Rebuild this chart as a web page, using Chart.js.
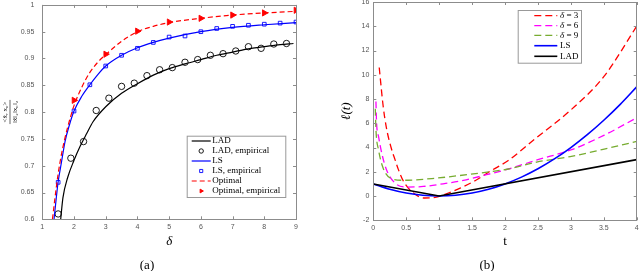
<!DOCTYPE html>
<html lang="en">
  <head>
    <meta charset="UTF-8" />
    <title>Chart</title>
    <style>
      body { margin: 0; background: #fff; }
      #wrap { position: relative; width: 640px; height: 271px; }
      #wrap canvas { position: absolute; top: 0; }
      .cap {
        position: absolute;
        top: 257px;
        font: 13px "Liberation Serif", serif;
        transform: translateX(-50%);
      }
    </style>
  </head>
  <body>
    <div id="wrap">
      <canvas id="chartA" width="320" height="271" style="left: 0"></canvas>
      <canvas id="chartB" width="320" height="271" style="left: 320px"></canvas>
      <div class="cap" style="left: 147px">(a)</div>
      <div class="cap" style="left: 487px">(b)</div>
    </div>

    <script src="https://cdn.jsdelivr.net/npm/chart.js"></script>
    <script>
      // ---- (a) correlation vs delta ----
      const aTickX = [1, 2, 3, 4, 5, 6, 7, 8, 9];
      const aTickY = [0.6, 0.65, 0.7, 0.75, 0.8, 0.85, 0.9, 0.95, 1];

      const ladDelta = [1.58, 1.65, 1.8, 2.0, 2.2, 2.4, 2.6, 3.0, 3.5, 4.0, 4.5, 5.0, 5.5, 6.0, 6.5, 7.0, 7.5, 8.0, 8.5, 8.92];
      const ladCurve = [0.6, 0.64, 0.678, 0.71, 0.737, 0.76, 0.782, 0.81, 0.835, 0.853, 0.869, 0.881, 0.89, 0.898, 0.906, 0.912, 0.918, 0.922, 0.926, 0.928];
      const ladEmpDelta = [1.5, 1.9, 2.3, 2.7, 3.1, 3.5, 3.9, 4.3, 4.7, 5.1, 5.5, 5.9, 6.3, 6.7, 7.1, 7.5, 7.9, 8.3, 8.7];
      const ladEmp = [0.61, 0.714, 0.745, 0.803, 0.826, 0.848, 0.854, 0.868, 0.879, 0.883, 0.893, 0.898, 0.906, 0.909, 0.914, 0.922, 0.919, 0.927, 0.928];

      const lsDelta = [1.37, 1.45, 1.5, 1.6, 1.72, 1.85, 2.0, 2.25, 2.5, 2.75, 3.0, 3.5, 4.0, 4.5, 5.0, 6.0, 7.0, 8.0, 9.0];
      const lsCurve = [0.6, 0.645, 0.67, 0.705, 0.746, 0.775, 0.802, 0.83, 0.851, 0.87, 0.886, 0.906, 0.92, 0.93, 0.938, 0.95, 0.958, 0.963, 0.967];
      const lsEmpDelta = [1.5, 2.0, 2.5, 3.0, 3.5, 4.0, 4.5, 5.0, 5.5, 6.0, 6.5, 7.0, 7.5, 8.0, 8.5, 9.0];
      const lsEmp = [0.669, 0.802, 0.851, 0.886, 0.906, 0.919, 0.93, 0.94, 0.942, 0.95, 0.956, 0.96, 0.962, 0.964, 0.966, 0.968];

      const optDelta = [1.32, 1.4, 1.5, 1.6, 1.7, 1.8, 1.9, 2.0, 2.25, 2.5, 2.75, 3.0, 3.5, 4.0, 4.5, 5.0, 6.0, 7.0, 8.0, 9.0];
      const optCurve = [0.6, 0.64, 0.685, 0.72, 0.748, 0.772, 0.793, 0.812, 0.847, 0.874, 0.893, 0.907, 0.932, 0.95, 0.96, 0.967, 0.975, 0.981, 0.985, 0.988];
      const optEmpDelta = [2, 3, 4, 5, 6, 7, 8, 9];
      const optEmp = [0.822, 0.908, 0.951, 0.968, 0.975, 0.981, 0.985, 0.99];

      // ---- (b) loss vs t ----
      const bTickX = [0, 0.5, 1, 1.5, 2, 2.5, 3, 3.5, 4];
      const bTickY = [-2, 0, 2, 4, 6, 8, 10, 12, 14, 16];

      const tD3 = [0.09, 0.15, 0.2, 0.27, 0.33, 0.38, 0.46, 0.61, 0.78, 0.96, 1.14, 1.32, 1.57, 1.77, 2.05, 2.43, 3.0, 3.5, 4.0];
      const lossD3 = [10.6, 7.4, 5.6, 4.0, 3.0, 2.2, 1.2, 0.25, -0.16, -0.08, 0.25, 0.66, 1.34, 2.03, 2.93, 4.6, 7.1, 9.84, 14.0];
      const tD6 = [0.04, 0.05, 0.08, 0.13, 0.2, 0.33, 0.51, 0.76, 1.06, 1.37, 1.72, 2.05, 2.5, 3.0, 3.5, 4.0];
      const lossD6 = [7.8, 6.0, 4.9, 3.5, 2.17, 1.07, 0.74, 0.79, 1.01, 1.29, 1.76, 2.23, 3.0, 3.8, 5.0, 6.45];
      const tD9 = [0.03, 0.04, 0.08, 0.15, 0.28, 0.46, 0.96, 1.47, 2.05, 2.48, 2.99, 3.49, 4.0];
      const lossD9 = [7.2, 5.5, 3.8, 2.3, 1.42, 1.3, 1.48, 1.8, 2.23, 2.8, 3.25, 3.85, 4.5];
      const tLS = [0, 0.25, 0.5, 0.75, 1, 1.25, 1.5, 1.75, 2, 2.25, 2.5, 2.75, 3, 3.25, 3.5, 3.75, 4];
      const lossLS = [1, 0.56, 0.25, 0.06, 0, 0.06, 0.25, 0.56, 1, 1.56, 2.25, 3.06, 4, 5.06, 6.25, 7.56, 9];
      const tLAD = [0, 1, 4];
      const lossLAD = [1, 0, 3];

      const xy = (xs, ys) => xs.map((x, i) => ({ x: x, y: ys[i] }));
      const tickFont = { family: "'Liberation Sans', Arial, sans-serif", size: 7 };
      const tickColor = "#555";
      const axisColor = "#8c8c8c";

      // matlab-style box with inward ticks
      const framePlugin = {
        id: "frame",
        afterDatasetsDraw(chart) {
          const { ctx, chartArea: a, scales } = chart;
          const L = 3;
          ctx.save();
          ctx.strokeStyle = axisColor;
          ctx.lineWidth = 1;
          ctx.setLineDash([]);
          ctx.strokeRect(Math.round(a.left) + 0.5, Math.round(a.top) + 0.5,
            Math.round(a.right - a.left), Math.round(a.bottom - a.top));
          ctx.beginPath();
          scales.x.ticks.forEach((tk) => {
            const px = Math.round(scales.x.getPixelForValue(tk.value)) + 0.5;
            ctx.moveTo(px, a.bottom); ctx.lineTo(px, a.bottom - L);
            ctx.moveTo(px, a.top); ctx.lineTo(px, a.top + L);
          });
          scales.y.ticks.forEach((tk) => {
            const py = Math.round(scales.y.getPixelForValue(tk.value)) + 0.5;
            ctx.moveTo(a.left, py); ctx.lineTo(a.left + L, py);
            ctx.moveTo(a.right, py); ctx.lineTo(a.right - L, py);
          });
          ctx.stroke();
          ctx.restore();
        },
      };

      // legend drawn inside the axes
      const boxLegend = {
        id: "boxLegend",
        afterDraw(chart, args, o) {
          const ctx = chart.ctx;
          const [bx, by, bw, bh] = o.box;
          ctx.save();
          ctx.fillStyle = "#fff";
          ctx.fillRect(bx, by, bw, bh);
          ctx.strokeStyle = "#999";
          ctx.lineWidth = 1;
          ctx.strokeRect(bx + 0.5, by + 0.5, bw, bh);
          o.rows.forEach((y, i) => {
            const ds = chart.data.datasets[o.order[i]];
            if (ds.showLine) {
              ctx.strokeStyle = ds.borderColor;
              ctx.lineWidth = ds.borderWidth;
              ctx.setLineDash(ds.borderDash || []);
              ctx.beginPath();
              ctx.moveTo(o.line[0], y);
              ctx.lineTo(o.line[1], y);
              ctx.stroke();
            } else {
              ctx.setLineDash([]);
              ctx.strokeStyle = ds.pointBorderColor;
              ctx.fillStyle = ds.pointBackgroundColor;
              ctx.lineWidth = ds.pointBorderWidth;
              Chart.helpers.drawPoint(ctx, {
                pointStyle: ds.pointStyle,
                rotation: ds.pointRotation || 0,
                radius: o.markerR,
                borderWidth: ds.pointBorderWidth,
              }, (o.line[0] + o.line[1]) / 2, y);
            }
            ctx.fillStyle = "#000";
            ctx.textBaseline = "middle";
            ctx.textAlign = "left";
            let x = o.textX;
            let label = ds.label;
            if (label.startsWith("δ")) {
              ctx.font = "italic 9px 'Liberation Serif', serif";
              ctx.fillText("δ", x, y);
              x += ctx.measureText("δ ").width;
              label = label.slice(1).trim();
            }
            ctx.font = "9px 'Liberation Serif', serif";
            ctx.fillText(label, x, y);
          });
          ctx.restore();
        },
      };

      // rotated fraction as y title of (a)
      const fracTitle = {
        id: "fracTitle",
        afterDraw(chart) {
          const ctx = chart.ctx;
          ctx.save();
          ctx.translate(10, 112);
          ctx.rotate(-Math.PI / 2);
          ctx.fillStyle = "#000";
          ctx.strokeStyle = "#000";
          ctx.font = "7px 'Liberation Serif', serif";
          ctx.textAlign = "center";
          const num = "<x\u0302, x\u2080>";
          const den = "\u2016x\u0302\u2016\u2082\u2016x\u2080\u2016\u2082";
          const w = Math.max(ctx.measureText(num).width, ctx.measureText(den).width) + 2;
          ctx.textBaseline = "bottom";
          ctx.fillText(num, 0, -1.5);
          ctx.textBaseline = "top";
          ctx.fillText(den, 0, 1.5);
          ctx.lineWidth = 0.6;
          ctx.beginPath();
          ctx.moveTo(-w / 2, 0);
          ctx.lineTo(w / 2, 0);
          ctx.stroke();
          ctx.restore();
        },
      };

      const fixedAxis = (w, h) => (scale) => {
        if (w != null) scale.width = w;
        if (h != null) scale.height = h;
        scale.paddingTop = 0; scale.paddingBottom = 0;
        scale.paddingLeft = 0; scale.paddingRight = 0;
      };

      const curve = (label, xs, ys, color, dash, width) => ({
        label, data: xy(xs, ys), showLine: true, borderColor: color,
        borderWidth: width, borderDash: dash, pointRadius: 0,
        cubicInterpolationMode: "monotone", fill: false,
      });
      const marks = (label, xs, ys, color, style, r, rot, filled) => ({
        label, data: xy(xs, ys), showLine: false, pointStyle: style,
        pointRadius: r, pointRotation: rot, pointBorderWidth: 0.9,
        pointBorderColor: color, borderColor: color,
        pointBackgroundColor: filled ? color : "rgba(0,0,0,0)",
      });

      const dsA = [
        curve("LAD", ladDelta, ladCurve, "#000", [], 1.2),
        marks("LAD, empirical", ladEmpDelta, ladEmp, "#000", "circle", 3.2, 0, false),
        curve("LS", lsDelta, lsCurve, "#0000ff", [], 1.2),
        marks("LS, empirical", lsEmpDelta, lsEmp, "#0000ff", "rect", 2.6, 0, false),
        curve("Optimal", optDelta, optCurve, "#ff0000", [5, 3], 1.2),
        marks("Optimal, empirical", optEmpDelta, optEmp, "#ff0000", "triangle", 3.6, 90, true),
      ];
      dsA.forEach((d, i) => (d.order = dsA.length - i));

      new Chart(document.getElementById("chartA"), {
        type: "scatter",
        data: { datasets: dsA },
        options: {
          responsive: false,
          animation: false,
          devicePixelRatio: 1,
          layout: { padding: { left: 0, right: 24, top: 2.7, bottom: 0 } },
          plugins: {
            legend: { display: false },
            tooltip: { enabled: false },
            boxLegend: {
              box: [186.7, 135.7, 98.6, 61.3],
              rows: [141, 151, 161, 171, 181, 191],
              order: [0, 1, 2, 3, 4, 5],
              line: [191.7, 210.7],
              textX: 212.3,
              markerR: 2.2,
            },
          },
          scales: {
            x: {
              type: "linear", min: 1, max: 9,
              afterBuildTicks: (s) => { s.ticks = aTickX.map((v) => ({ value: v })); },
              afterFit: fixedAxis(null, 51.7),
              grid: { display: false, drawTicks: false },
              border: { display: false },
              ticks: { font: tickFont, color: tickColor, padding: 4, maxRotation: 0 },
              title: {
                display: true, text: "δ", color: "#000",
                font: { family: "'Liberation Serif', serif", size: 13, style: "italic" },
                padding: { top: 0, bottom: 21.5 },
              },
            },
            y: {
              type: "linear", min: 0.6, max: 1,
              afterBuildTicks: (s) => { s.ticks = aTickY.map((v) => ({ value: v })); },
              afterFit: fixedAxis(42.3, null),
              grid: { display: false, drawTicks: false },
              border: { display: false },
              ticks: { font: tickFont, color: tickColor, padding: 8, callback: (v) => String(+v.toFixed(2)) },
            },
          },
        },
        plugins: [framePlugin, boxLegend, fracTitle],
      });

      const dsB = [
        curve("δ = 3", tD3, lossD3, "#ff0000", [7, 4], 1.3),
        curve("δ = 6", tD6, lossD6, "#ff00ff", [7, 4], 1.3),
        curve("δ = 9", tD9, lossD9, "#77ac30", [7, 4], 1.3),
        curve("LS", tLS, lossLS, "#0000ff", [], 1.6),
        curve("LAD", tLAD, lossLAD, "#000", [], 1.6),
      ];
      dsB.forEach((d, i) => (d.order = dsB.length - i));
      dsB[4].cubicInterpolationMode = "default";
      dsB[4].tension = 0;

      new Chart(document.getElementById("chartB"), {
        type: "scatter",
        data: { datasets: dsB },
        options: {
          responsive: false,
          animation: false,
          devicePixelRatio: 1,
          layout: { padding: { left: 0, right: 3.3, top: 2, bottom: 0 } },
          plugins: {
            legend: { display: false },
            tooltip: { enabled: false },
            boxLegend: {
              box: [197.7, 10, 63.3, 52.7],
              rows: [15.7, 25.7, 35.3, 45.7, 56.3],
              order: [0, 1, 2, 3, 4],
              line: [214.3, 237.3],
              textX: 240,
              markerR: 2,
            },
          },
          scales: {
            x: {
              type: "linear", min: 0, max: 4,
              afterBuildTicks: (s) => { s.ticks = bTickX.map((v) => ({ value: v })); },
              afterFit: fixedAxis(null, 50.7),
              grid: { display: false, drawTicks: false },
              border: { display: false },
              ticks: { font: tickFont, color: tickColor, padding: 4, maxRotation: 0, callback: (v) => String(v) },
              title: {
                display: true, text: "t", color: "#000",
                font: { family: "'Liberation Serif', serif", size: 13 },
                padding: { top: 0, bottom: 21.5 },
              },
            },
            y: {
              type: "linear", min: -2, max: 16,
              afterBuildTicks: (s) => { s.ticks = bTickY.map((v) => ({ value: v })); },
              afterFit: fixedAxis(53.3, null),
              grid: { display: false, drawTicks: false },
              border: { display: false },
              ticks: { font: tickFont, color: tickColor, padding: 4, callback: (v) => String(v) },
              title: {
                display: true, text: "ℓ(t)", color: "#000",
                font: { family: "'Liberation Serif', serif", size: 13, style: "italic" },
                padding: { top: 19, bottom: 0 },
              },
            },
          },
        },
        plugins: [framePlugin, boxLegend],
      });
    </script>
  </body>
</html>
